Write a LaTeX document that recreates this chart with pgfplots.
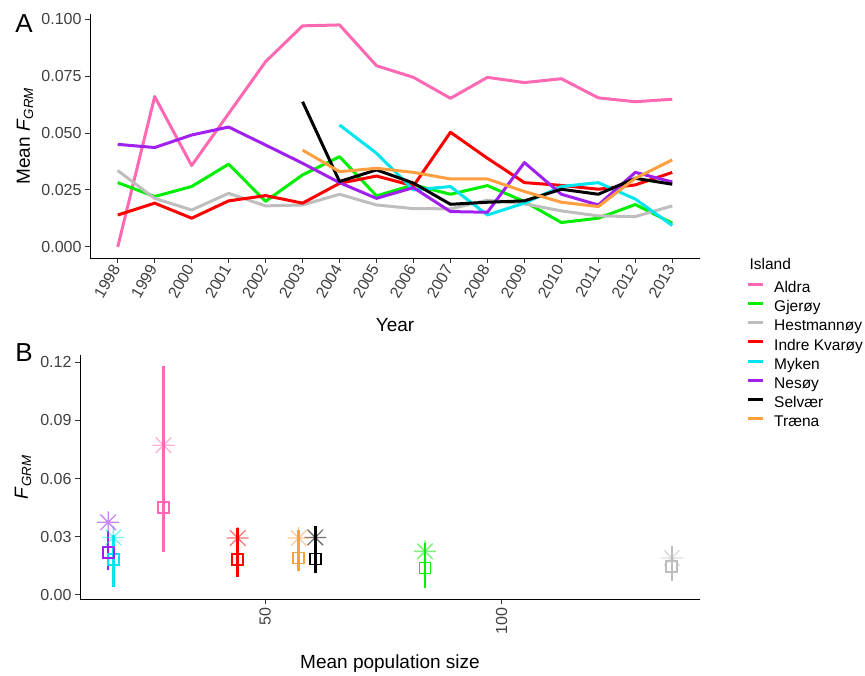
\documentclass[border=0pt]{standalone}
\usepackage{fontspec}
\setmainfont{Liberation Sans}
\usepackage{pgfplots}
\pgfplotsset{compat=1.18}

\definecolor{cAl}{HTML}{FF69B4}
\definecolor{cGj}{HTML}{00EE00}
\definecolor{cHe}{HTML}{BEBEBE}
\definecolor{cIn}{HTML}{FF0000}
\definecolor{cMy}{HTML}{00E5EE}
\definecolor{cNe}{HTML}{A020F0}
\definecolor{cSe}{HTML}{000000}
\definecolor{cTr}{HTML}{FF9F40}

\pgfdeclareplotmark{ggstar}{%
  \pgfpathmoveto{\pgfqpoint{-\pgfplotmarksize}{0pt}}\pgfpathlineto{\pgfqpoint{\pgfplotmarksize}{0pt}}%
  \pgfpathmoveto{\pgfqpoint{0pt}{-\pgfplotmarksize}}\pgfpathlineto{\pgfqpoint{0pt}{\pgfplotmarksize}}%
  \pgfpathmoveto{\pgfqpoint{-0.7071\pgfplotmarksize}{-0.7071\pgfplotmarksize}}\pgfpathlineto{\pgfqpoint{0.7071\pgfplotmarksize}{0.7071\pgfplotmarksize}}%
  \pgfpathmoveto{\pgfqpoint{-0.7071\pgfplotmarksize}{0.7071\pgfplotmarksize}}\pgfpathlineto{\pgfqpoint{0.7071\pgfplotmarksize}{-0.7071\pgfplotmarksize}}%
  \pgfusepathqstroke}

\pgfplotsset{
  ggbase/.style={
    scale only axis,
    anchor=south west,
    axis x line*=bottom, axis y line*=left,
    axis line style={-, line width=0.9pt, black},
    tick align=outside, major tick length=5pt,
    tick style={line width=0.9pt, black!80},
    scaled y ticks=false, scaled x ticks=false,
    /pgf/number format/assume math mode=true,
    ticklabel style={font=\fontsize{16}{19}\selectfont, text=black!75},
    label style={font=\fontsize{19}{23}\selectfont, text=black},
    clip=false,
  },
}

\begin{document}
\begin{tikzpicture}
\useasboundingbox (0pt,0pt) rectangle (865pt,675pt);

% ---------------- Panel A ----------------
\begin{axis}[ggbase,
  at={(90pt,417pt)}, width=610pt, height=244pt,
  xmin=1997.25, xmax=2013.75, ymin=-0.00487, ymax=0.1022,
  xtick={1998,1999,...,2013}, ytick={0,0.025,0.05,0.075,0.1},
  xticklabel style={rotate=60, anchor=east, /pgf/number format/1000 sep={}},
  yticklabel style={/pgf/number format/fixed, /pgf/number format/fixed zerofill, /pgf/number format/precision=3},
  xlabel={Year},
  xlabel style={at={(axis description cs:0.5,-0.2746)}, anchor=center},
  ylabel={Mean \textit{F}\textsubscript{\textit{GRM}}},
  ylabel style={at={(axis description cs:-0.1066,0.5)}, anchor=center},
  every axis plot/.append style={line width=3pt, line join=round},
  legend cell align=left,
  legend style={at={(axis description cs:1.0754,-0.0943)}, anchor=north west,
    draw=none, fill=none, font=\fontsize{15.5}{18}\selectfont,
    row sep=3.6pt, column sep=10pt, inner sep=0pt,
    nodes={inner sep=0pt, text height=11.5pt, text depth=4pt}},
  legend image code/.code={\draw[#1] (0pt,4.3pt) -- (15pt,4.3pt);},
]
\addplot[cAl] coordinates {(1998,0.000)(1999,0.066)(2000,0.0357)(2001,0.0585)(2002,0.0813)(2003,0.097)(2004,0.0974)(2005,0.0795)(2006,0.0744)(2007,0.0652)(2008,0.0744)(2009,0.0721)(2010,0.0738)(2011,0.0654)(2012,0.0637)(2013,0.0648)};
\addlegendentry{Aldra}
\addplot[cGj] coordinates {(1998,0.0282)(1999,0.0221)(2000,0.0265)(2001,0.0363)(2002,0.0200)(2003,0.0316)(2004,0.0396)(2005,0.0224)(2006,0.0272)(2007,0.0231)(2008,0.0269)(2009,0.0199)(2010,0.0107)(2011,0.0126)(2012,0.0186)(2013,0.0104)};
\addlegendentry{Gjerøy}
\addplot[cHe] coordinates {(1998,0.0335)(1999,0.0213)(2000,0.0162)(2001,0.0235)(2002,0.0180)(2003,0.0184)(2004,0.0231)(2005,0.0184)(2006,0.0168)(2007,0.0167)(2008,0.0205)(2009,0.0189)(2010,0.0158)(2011,0.0136)(2012,0.0133)(2013,0.0180)};
\addlegendentry{Hestmannøy}
\addplot[cIn] coordinates {(1998,0.0140)(1999,0.0192)(2000,0.0126)(2001,0.0202)(2002,0.0225)(2003,0.0192)(2004,0.0279)(2005,0.0311)(2006,0.0268)(2007,0.0503)(2008,0.0389)(2009,0.0282)(2010,0.0270)(2011,0.0253)(2012,0.0272)(2013,0.0327)};
\addlegendentry{Indre Kvarøy}
\addplot[cMy] coordinates {(2004,0.0535)(2005,0.0411)(2006,0.0250)(2007,0.0265)(2008,0.0140)(2009,0.0192)(2010,0.0265)(2011,0.0282)(2012,0.0210)(2013,0.0094)};
\addlegendentry{Myken}
\addplot[cNe] coordinates {(1998,0.0450)(1999,0.0436)(2000,0.0491)(2001,0.0526)(2002,0.0447)(2003,0.0367)(2004,0.0282)(2005,0.0213)(2006,0.0260)(2007,0.0155)(2008,0.0152)(2009,0.0370)(2010,0.0231)(2011,0.0184)(2012,0.0327)(2013,0.0285)};
\addlegendentry{Nesøy}
\addplot[cSe] coordinates {(2003,0.0637)(2004,0.0287)(2005,0.0338)(2006,0.0280)(2007,0.0187)(2008,0.0196)(2009,0.0202)(2010,0.0253)(2011,0.0231)(2012,0.0301)(2013,0.0275)};
\addlegendentry{Selvær}
\addplot[cTr] coordinates {(2003,0.0425)(2004,0.0330)(2005,0.0345)(2006,0.0327)(2007,0.0298)(2008,0.0298)(2009,0.0243)(2010,0.0196)(2011,0.0177)(2012,0.0301)(2013,0.0382)};
\addlegendentry{Træna}
\end{axis}

\node[anchor=west, font=\fontsize{15.5}{18}\selectfont] at (746pt,411pt) {Island};
\node[font=\fontsize{26}{30}\selectfont] at (24pt,651pt) {A};
\node[font=\fontsize{26}{30}\selectfont] at (24pt,322pt) {B};

% ---------------- Panel B ----------------
\begin{axis}[ggbase,
  at={(80pt,76pt)}, width=620pt, height=244pt,
  xmin=10.84, xmax=141.96, ymin=-0.0022, ymax=0.1238,
  xtick={50,100}, ytick={0,0.03,0.06,0.09,0.12},
  xticklabel style={rotate=90, anchor=east},
  yticklabel style={/pgf/number format/fixed, /pgf/number format/fixed zerofill, /pgf/number format/precision=2},
  xlabel={Mean population size},
  xlabel style={at={(axis description cs:0.5,-0.2664)}, anchor=center},
  ylabel={\textit{F}\textsubscript{\textit{GRM}}},
  ylabel style={at={(axis description cs:-0.0919,0.5)}, anchor=center},
  sq/.style={#1, only marks, mark=square, mark size=5.5pt, mark options={line width=1.8pt},
    error bars/.cd, y dir=both, y explicit, error mark=none, error bar style={line width=2.5pt}},
  st/.style={#1, only marks, mark=ggstar, mark size=11pt, mark options={line width=1.3pt, draw opacity=0.55}},
]
\addplot[sq=cAl] coordinates {(28.5,0.0452) += (0,0.0729) -= (0,0.0231)};
\addplot[sq=cGj] coordinates {(83.8,0.0138) += (0,0.0129) -= (0,0.0103)};
\addplot[sq=cHe] coordinates {(136,0.0146) += (0,0.0104) -= (0,0.0077)};
\addplot[sq=cIn] coordinates {(44.2,0.0181) += (0,0.0166) -= (0,0.0088)};
\addplot[sq=cMy] coordinates {(17.9,0.0181) += (0,0.0130) -= (0,0.0140)};
\addplot[sq=cNe] coordinates {(16.8,0.0217) += (0,0.0113) -= (0,0.0088)};
\addplot[sq=cSe] coordinates {(60.6,0.0185) += (0,0.0168) -= (0,0.0073)};
\addplot[sq=cTr] coordinates {(57.1,0.0190) += (0,0.0146) -= (0,0.0069)};
\addplot[st=cAl] coordinates {(28.5,0.0772)};
\addplot[st=cGj] coordinates {(83.8,0.0224)};
\addplot[st=cHe] coordinates {(136,0.0190)};
\addplot[st=cIn] coordinates {(44.2,0.0293)};
\addplot[st=cMy] coordinates {(17.9,0.0296)};
\addplot[st=cNe] coordinates {(16.8,0.0374)};
\addplot[st=cSe] coordinates {(60.6,0.0296)};
\addplot[st=cTr] coordinates {(57.1,0.0293)};
\end{axis}
\end{tikzpicture}
\end{document}
